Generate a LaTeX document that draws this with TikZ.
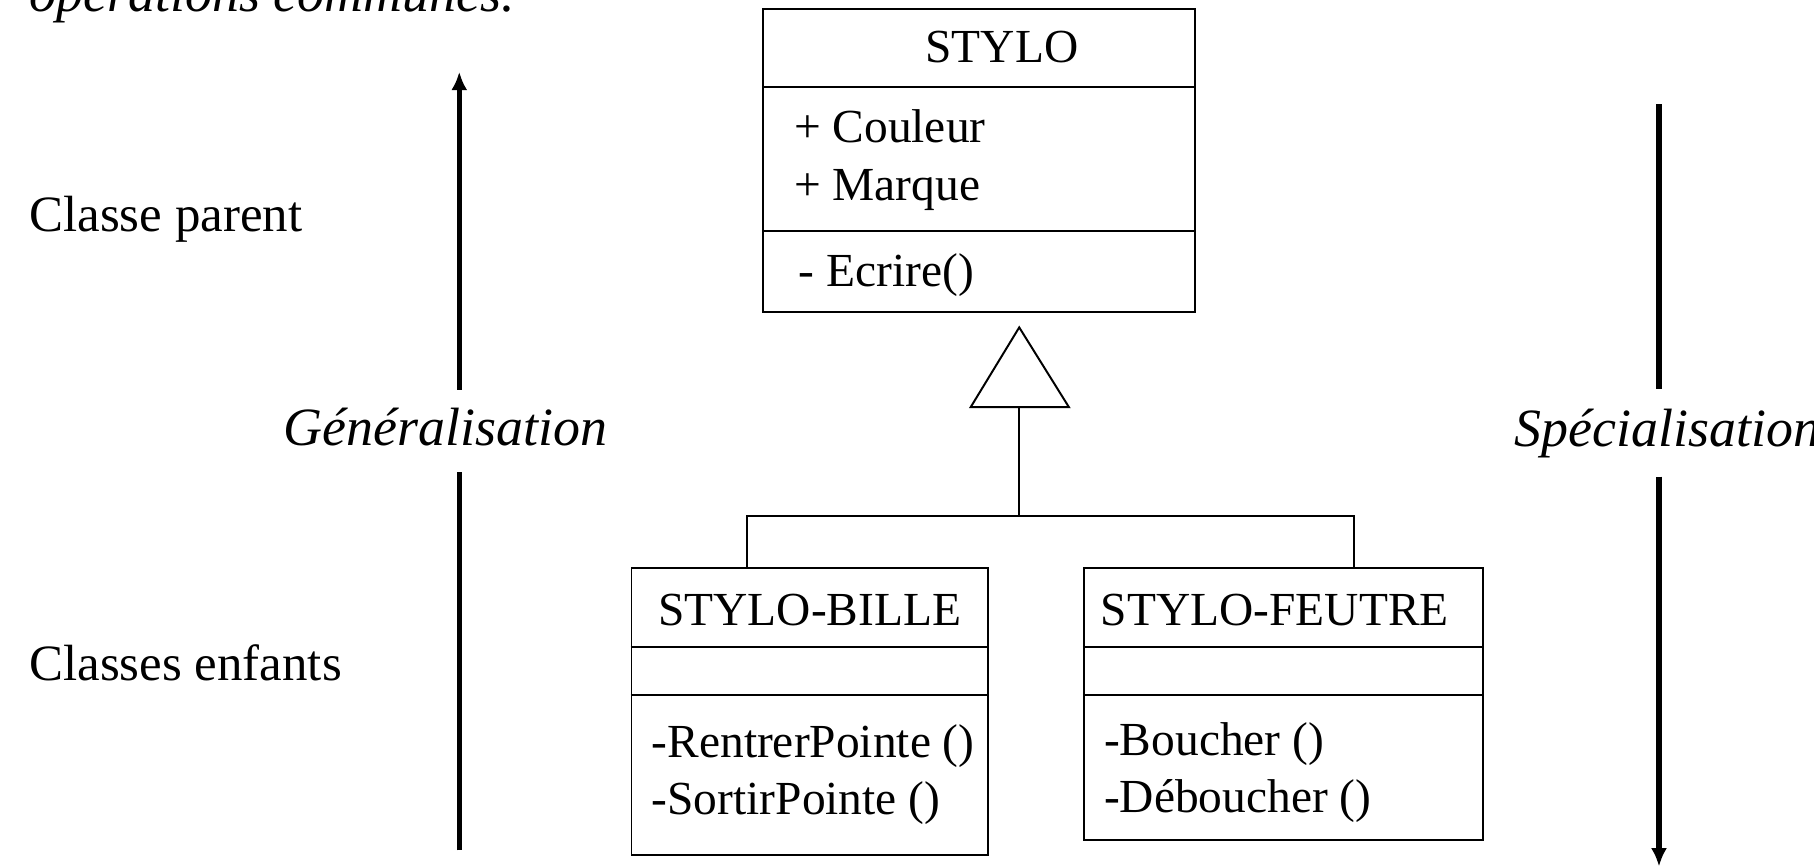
\documentclass[tikz,border=0pt]{standalone}
\usepackage{fontspec}
\setmainfont{Liberation Serif}
\usetikzlibrary{arrows.meta}
\begin{document}
\begin{tikzpicture}[x=0.5pt,y=-0.5pt,
  cls/.style={draw, line width=0.85pt, anchor=north west, inner sep=0pt},
  sep/.style={line width=0.85pt},
  link/.style={line width=0.85pt},
  big/.style={line width=2.2pt},
  bigarrow/.style={line width=2.2pt, -{Latex[length=8pt,width=7pt]}},
  umltxt/.style={font=\fontsize{20.5}{24}\selectfont, inner sep=0pt},
  side/.style={font=\fontsize{22}{26}\selectfont, inner sep=0pt, anchor=base west},
  sideit/.style={font=\fontsize{23.3}{27}\itshape\selectfont, inner sep=0pt}
]
\useasboundingbox (0,0) rectangle (1568,749);

% top cut text
\node[sideit, anchor=base west] (intro) at (25,10) {opérations communes.};

% side labels
\node[side] (parent) at (25,200) {Classe parent};
\node[side] (enfants) at (25,588) {Classes enfants};

% STYLO class
\node[cls, minimum width=186.5pt, minimum height=131pt] (stylo) at (659,7) {};
\draw[sep] (659,75) -- (1032,75);
\draw[sep] (659,200) -- (1032,200);
\node[umltxt, anchor=base] (stylon) at (866,54) {STYLO};
\node[umltxt, anchor=base west] (coul) at (686,123) {+ Couleur};
\node[umltxt, anchor=base west] (marq) at (686,173) {+ Marque};
\node[umltxt, anchor=base west] (ecr) at (690,248) {- Ecrire()};

% STYLO-BILLE class
\node[cls, minimum width=154pt, minimum height=124pt] (bille) at (545,490) {};
\draw[sep] (545,559) -- (853,559);
\draw[sep] (545,601) -- (853,601);
\node[umltxt, anchor=base] (billen) at (700,541) {STYLO-BILLE};
\node[umltxt, anchor=base west] (rentrer) at (563,655) {-RentrerPointe ()};
\node[umltxt, anchor=base west] (sortir) at (563,704) {-SortirPointe ()};

% STYLO-FEUTRE class
\node[cls, minimum width=172.5pt, minimum height=117.5pt] (feutre) at (936,490) {};
\draw[sep] (936,559) -- (1281,559);
\draw[sep] (936,601) -- (1281,601);
\node[umltxt, anchor=base] (feutren) at (1102,541) {STYLO-FEUTRE};
\node[umltxt, anchor=base west] (boucher) at (954,653) {-Boucher ()};
\node[umltxt, anchor=base west] (deboucher) at (954,702) {-Déboucher ()};

% generalisation triangle and links
\coordinate (apex) at (881,283);
\coordinate (tribase) at (881,352);
\coordinate (join) at (881,446);
\draw[link, line join=miter] (apex) -- (839,352) -- (924,352) -- cycle;
\draw[link] (tribase) -- (join);
\draw[link] (join) -- (646,446) -- (bille.north west -| 646,490);
\draw[link] (join) -- (1170,446) -- (feutre.north west -| 1170,490);

% left arrow: Generalisation
\coordinate (gbot) at (397,735);
\coordinate (glow) at (397,408);
\coordinate (ghigh) at (397,337);
\coordinate (gtop) at (397,62);
\node[sideit, anchor=base] (gen) at (385,385) {Généralisation};
\draw[big] (gbot) -- (glow);
\draw[bigarrow] (ghigh) -- (gtop);

% right arrow: Specialisation
\coordinate (stop) at (1434,90);
\coordinate (shigh) at (1434,336);
\coordinate (slow) at (1434,412);
\coordinate (sbot) at (1434,749);
\node[sideit, anchor=base west] (spec) at (1309,386) {Spécialisation};
\draw[big] (stop) -- (shigh);
\draw[bigarrow] (slow) -- (sbot);
\end{tikzpicture}
\end{document}
